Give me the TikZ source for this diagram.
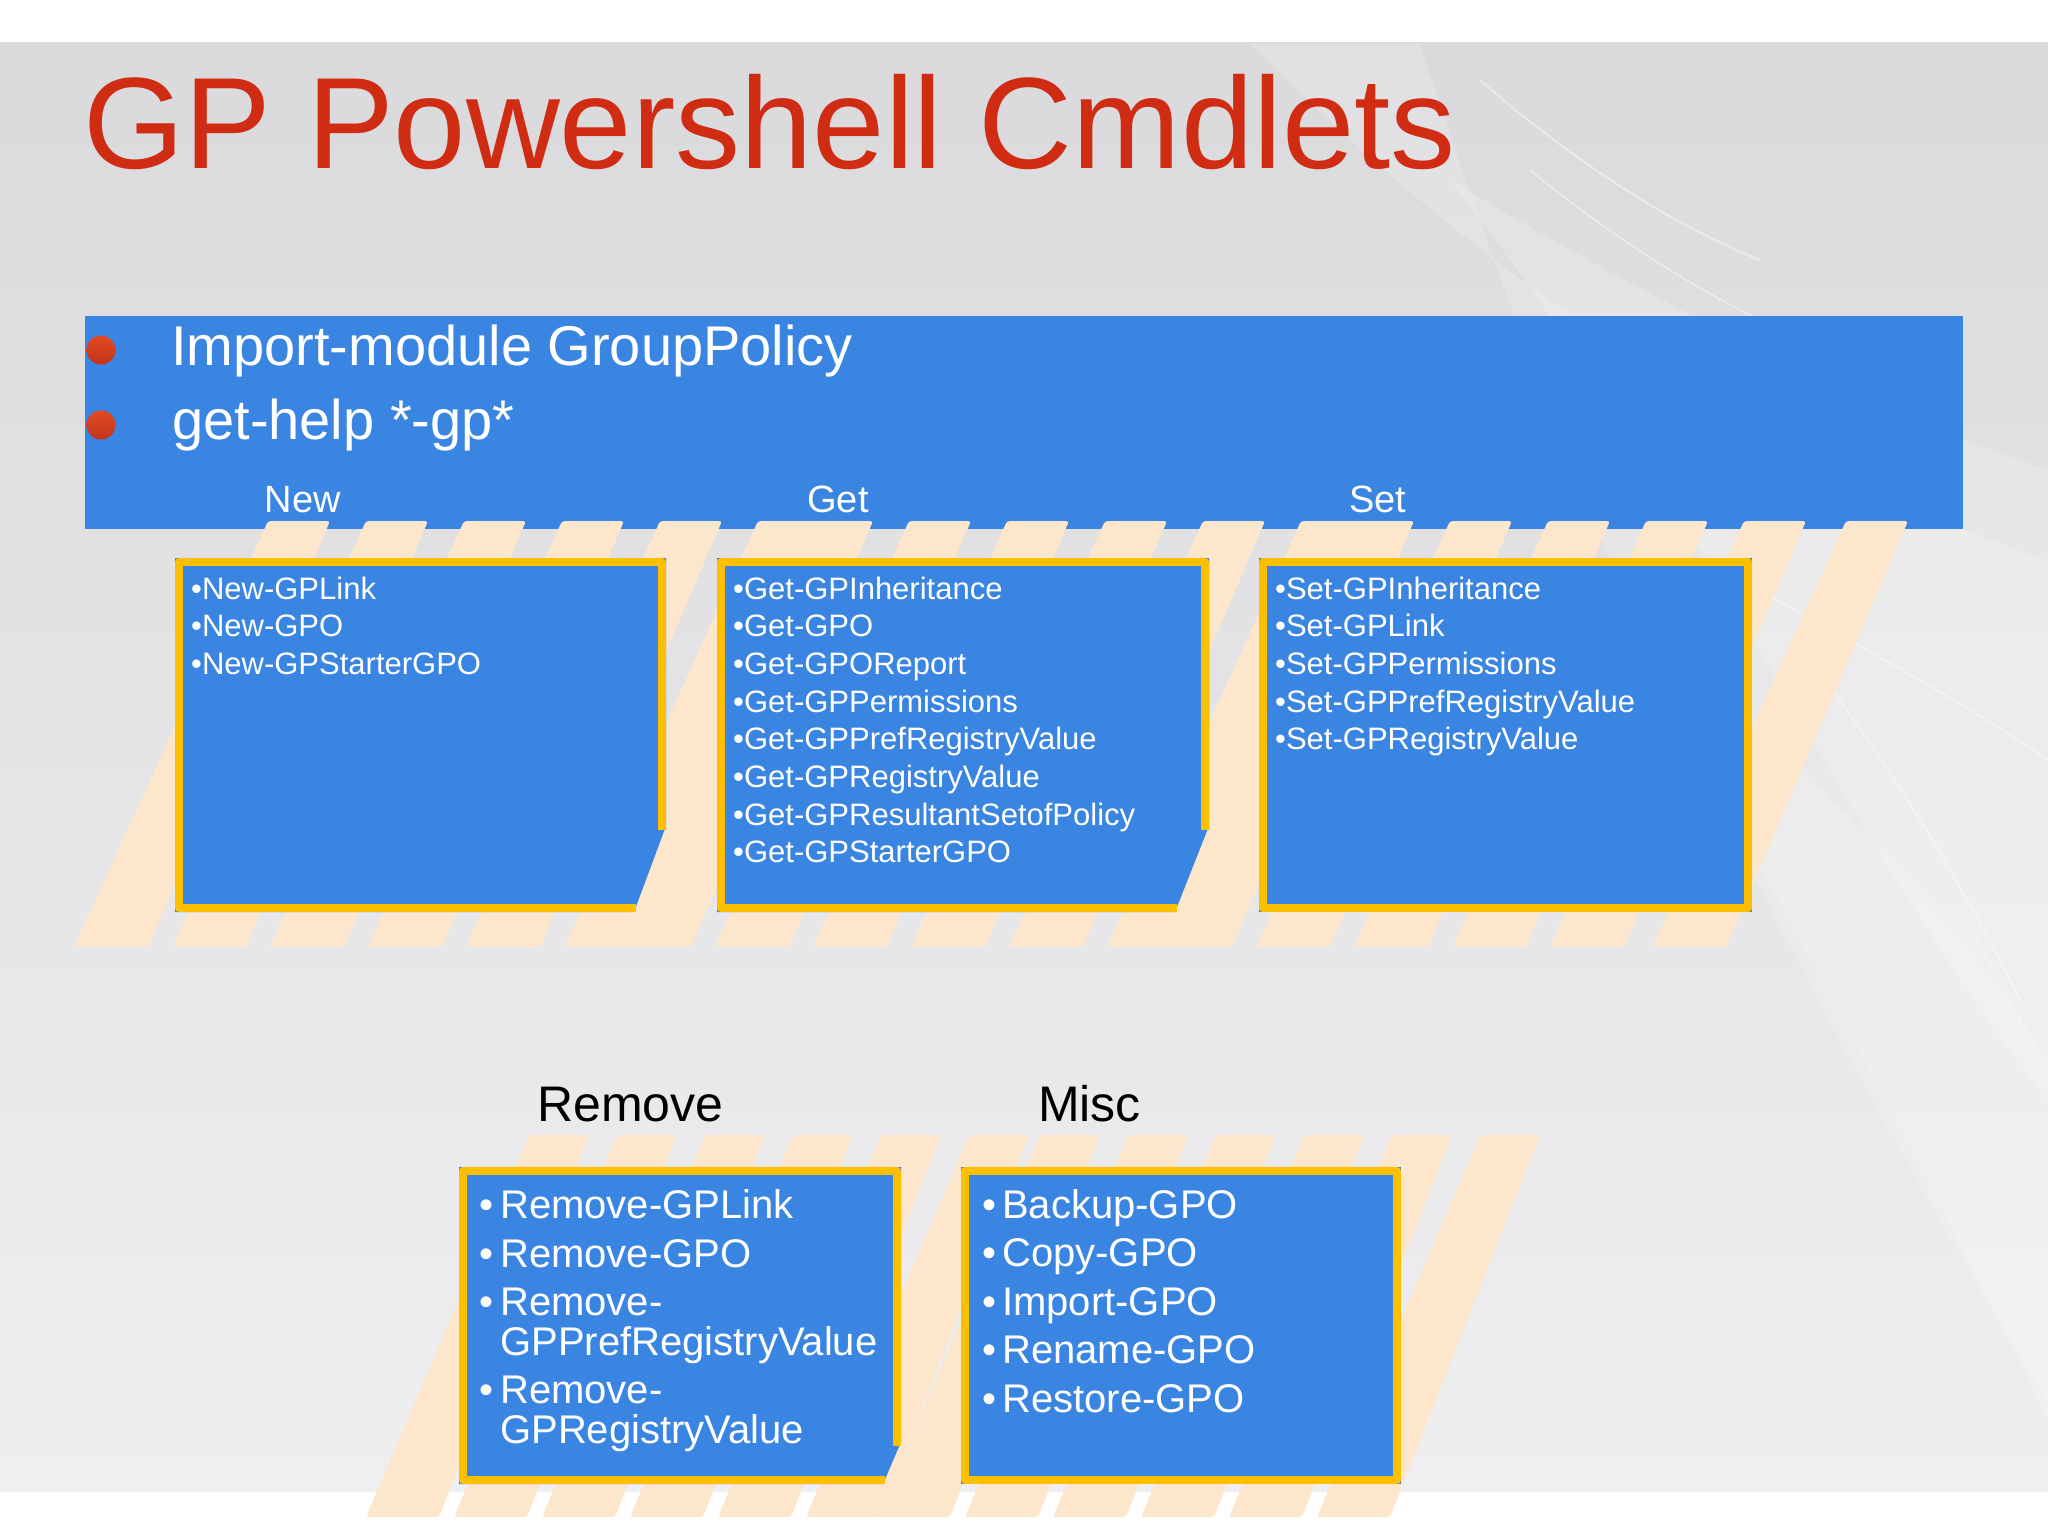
\documentclass[tikz,border=0pt]{standalone}
\usepackage{fontspec}
\setmainfont{Liberation Sans}
\definecolor{bannerblue}{HTML}{3A85E1}
\definecolor{gold}{HTML}{FCC000}
\definecolor{stripecol}{HTML}{FCE7CD}
\definecolor{titlered}{HTML}{D02C14}
\definecolor{bgtop}{HTML}{DADADC}
\definecolor{bgbot}{HTML}{EFEFF2}
\definecolor{dotred}{HTML}{E24A22}
\definecolor{dotdark}{HTML}{C23418}
\begin{document}
\begin{tikzpicture}[x=1pt,y=-1pt,
  stripefill/.style={fill=stripecol, rounded corners=3pt},
  boxfill/.style={fill=bannerblue},
  boxline/.style={draw=gold, line width=8pt, line join=round},
  item/.style={text=white, font=\fontsize{31}{36}\selectfont, anchor=base west, inner sep=0pt},
  bitem/.style={text=white, font=\fontsize{40}{48}\selectfont, anchor=base west, inner sep=0pt},
  hdr/.style={text=white, font=\fontsize{38}{44}\selectfont, anchor=base, inner sep=0pt},
  lbl/.style={text=black, font=\fontsize{50}{60}\selectfont, anchor=base west, inner sep=0pt},
  bantext/.style={text=white, font=\fontsize{56}{66}\selectfont, anchor=base west, inner sep=0pt},
  streak/.style={draw=white, line cap=round},
]
\useasboundingbox (0,0) rectangle (2048,1536);
% background
\fill[white] (0,0) rectangle (2048,1536);
\shade[top color=bgtop, bottom color=bgbot] (0,43) rectangle (2048,1491);
% light swooshes on the right
\fill[white, opacity=0.18] (1250,43) .. controls (1500,300) and (1800,480) .. (2048,560) -- (2048,1400) .. controls (1800,1000) and (1600,600) .. (1420,43) -- cycle;
\fill[white, opacity=0.2] (1450,180) .. controls (1700,330) and (1900,420) .. (2048,470) -- (2048,1100) .. controls (1850,850) and (1700,500) .. (1450,180) -- cycle;
\fill[white, opacity=0.15] (1620,620) .. controls (1800,760) and (1950,900) .. (2048,1060) -- (2048,1420) .. controls (1900,1120) and (1760,860) .. (1620,620) -- cycle;
\draw[streak, opacity=0.45, line width=1.5pt] (1530,170) .. controls (1640,260) and (1760,330) .. (1880,370);
\draw[streak, opacity=0.45, line width=1.5pt] (1740,580) .. controls (1850,640) and (1960,700) .. (2048,760);
\draw[streak, opacity=0.4, line width=1.5pt] (1810,660) .. controls (1900,780) and (1960,880) .. (2020,1000);
\draw[streak, opacity=0.35, line width=1.5pt] (1960,910) .. controls (2000,980) and (2030,1040) .. (2048,1080);
\draw[streak, opacity=0.4, line width=2pt] (1480,80) .. controls (1560,150) and (1660,220) .. (1760,260);
% title
\node[text=titlered, font=\fontsize{130}{150}\selectfont, anchor=base west, inner sep=0pt] (title) at (83,168) {GP Powershell Cmdlets};
% banner
\fill[bannerblue] (85,316) rectangle (1963,529);
\shade[top color=dotred, bottom color=dotdark] (101,350) circle (14.5);
\shade[top color=dotred, bottom color=dotdark] (101,425) circle (14.5);
\node[bantext] (imp) at (171,365) {Import-module GroupPolicy};
\node[bantext] (help) at (172,439) {get-help *-gp*};
\node[hdr] (hnew) at (303,512) {New};
\node[hdr] (hget) at (838,512) {Get};
\node[hdr] (hset) at (1378,512) {Set};
% top stripes
\foreach \x in {268,366,464,562,660,758,811,909,1007,1105,1203,1301,1352,1450,1548,1646,1744,1846}
  \fill[stripefill] (\x,521) -- (\x+62,521) -- (\x-120,947) -- (\x-194,947) -- cycle;
% bottom stripes
\foreach \x in {529,617,705,793,881,969,1040,1128,1216,1304,1392,1480}
  \fill[stripefill] (\x,1135) -- (\x+60,1135) -- (\x-90,1517) -- (\x-163,1517) -- cycle;
% New box (cut corner)
\fill[boxfill] (175,558) -- (666,558) -- (666,826) -- (634,912) -- (175,912) -- cycle;
\draw[boxline] (636,908) -- (179,908) -- (179,562) -- (662,562) -- (662,830);
% Get box (cut corner)
\fill[boxfill] (717,558) -- (1209,558) -- (1209,826) -- (1175,912) -- (717,912) -- cycle;
\draw[boxline] (1177,908) -- (721,908) -- (721,562) -- (1205,562) -- (1205,830);
% Set box
\fill[boxfill] (1259,558) rectangle (1752,912);
\draw[boxline] (1263,562) rectangle (1748,908);
% Remove box (cut corner)
\fill[boxfill] (459,1167) -- (901,1167) -- (901,1442) -- (883,1484) -- (459,1484) -- cycle;
\draw[boxline] (885,1480) -- (463,1480) -- (463,1171) -- (897,1171) -- (897,1446);
% Misc box
\fill[boxfill] (961,1167) rectangle (1401,1484);
\draw[boxline] (965,1171) rectangle (1397,1480);
% top box items
\foreach \t [count=\i] in {New-GPLink,New-GPO,New-GPStarterGPO}
  \node[item] (new\i) at (191,{599+37.7*(\i-1)}) {•\t};
\foreach \t [count=\i] in {Get-GPInheritance,Get-GPO,Get-GPOReport,Get-GPPermissions,Get-GPPrefRegistryValue,Get-GPRegistryValue,Get-GPResultantSetofPolicy,Get-GPStarterGPO}
  \node[item] (get\i) at (733,{599+37.7*(\i-1)}) {•\t};
\foreach \t [count=\i] in {Set-GPInheritance,Set-GPLink,Set-GPPermissions,Set-GPPrefRegistryValue,Set-GPRegistryValue}
  \node[item] (set\i) at (1275,{599+37.7*(\i-1)}) {•\t};
% bottom labels
\node[lbl] (lremove) at (537,1121) {Remove};
\node[lbl] (lmisc) at (1038,1121) {Misc};
% Remove items
\node[bitem] (rb1) at (479,1218) {•};
\node[bitem] (rb2) at (479,1267) {•};
\node[bitem] (rb3) at (479,1315) {•};
\node[bitem] (rb4) at (479,1403) {•};
\node[bitem] (r1) at (500,1218) {Remove-GPLink};
\node[bitem] (r2) at (500,1267) {Remove-GPO};
\node[bitem] (r3) at (500,1315) {Remove-};
\node[bitem] (r3b) at (500,1355) {GPPrefRegistryValue};
\node[bitem] (r4) at (500,1403) {Remove-};
\node[bitem] (r4b) at (500,1443) {GPRegistryValue};
% Misc items
\foreach \t [count=\i] in {Backup-GPO,Copy-GPO,Import-GPO,Rename-GPO,Restore-GPO}{
  \node[bitem] (mb\i) at (982,{1218+48.5*(\i-1)}) {•};
  \node[bitem] (m\i) at (1002,{1218+48.5*(\i-1)}) {\t};
}
\end{tikzpicture}
\end{document}
